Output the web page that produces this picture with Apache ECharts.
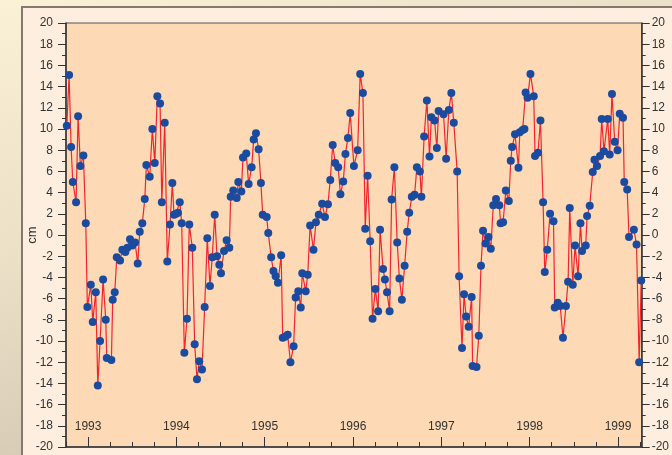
<!DOCTYPE html>
<html>
<head>
<meta charset="utf-8">
<script src="https://cdn.jsdelivr.net/npm/echarts@6/dist/echarts.min.js"></script>
<style>
html,body{margin:0;padding:0;}
#chart{width:672px;height:455px;}
</style>
</head>
<body>
<div id="chart"></div>
<script>
// Observation times (decimal years) and sea level anomaly (cm)
var times = [
1992.759,1992.785,1992.808,1992.827,1992.864,1992.887,1992.913,1992.947,1992.974,1992.992,
1993.031,1993.053,1993.087,1993.110,1993.136,1993.170,1993.200,1993.212,1993.264,1993.279,
1993.302,1993.325,1993.362,1993.388,1993.422,1993.445,1993.475,1993.501,1993.532,1993.562,
1993.585,1993.614,1993.642,1993.660,1993.698,1993.728,1993.755,1993.784,1993.815,1993.835,
1993.868,1993.897,1993.928,1993.954,1993.973,1993.996,1994.018,1994.038,1994.060,1994.090,
1994.120,1994.146,1994.180,1994.207,1994.233,1994.259,1994.290,1994.320,1994.350,1994.380,
1994.406,1994.434,1994.460,1994.486,1994.505,1994.539,1994.569,1994.599,1994.615,1994.644,
1994.683,1994.701,1994.735,1994.754,1994.791,1994.818,1994.852,1994.875,1994.901,1994.931,
1994.957,1994.977,1995.022,1995.040,1995.073,1995.099,1995.124,1995.150,1995.186,1995.204,
1995.231,1995.260,1995.291,1995.327,1995.350,1995.380,1995.408,1995.425,1995.464,1995.487,
1995.514,1995.552,1995.580,1995.612,1995.650,1995.682,1995.716,1995.742,1995.770,1995.798,
1995.832,1995.857,1995.889,1995.914,1995.942,1995.968,
1996.010,1996.052,1996.081,1996.112,1996.138,1996.165,1996.194,1996.221,1996.253,1996.284,
1996.306,1996.340,1996.361,1996.385,1996.414,1996.437,1996.468,1996.500,1996.525,1996.553,
1996.584,1996.613,1996.636,1996.666,1996.697,1996.723,1996.757,1996.774,1996.805,1996.836,
1996.866,1996.887,1996.923,1996.949,1996.969,
1997.025,1997.054,1997.085,1997.113,1997.141,1997.179,1997.201,1997.234,1997.257,1997.280,
1997.309,1997.343,1997.354,1997.398,1997.424,1997.449,1997.472,1997.500,1997.534,1997.560,
1997.588,1997.619,1997.656,1997.671,1997.699,1997.730,1997.764,1997.786,1997.801,1997.834,
1997.873,1997.888,1997.920,1997.941,1997.954,1997.976,
1998.009,1998.046,1998.061,1998.094,1998.122,1998.152,1998.171,1998.199,1998.231,1998.270,
1998.284,1998.318,1998.346,1998.377,1998.411,1998.435,1998.454,1998.488,1998.514,1998.548,
1998.575,1998.593,1998.635,1998.650,1998.680,1998.714,1998.734,1998.763,1998.797,1998.816,
1998.841,1998.884,1998.906,1998.932,1998.963,1998.995,
1999.020,1999.057,1999.071,1999.104,1999.125,1999.180,1999.210,1999.240,1999.263
];
var sla = [
10.3,15.1,8.3,5.0,3.1,11.2,6.5,7.5,1.1,-6.8,
-4.7,-8.2,-5.4,-14.2,-10.0,-4.2,-8.0,-11.6,-11.8,-6.1,
-5.4,-2.1,-2.4,-1.4,-1.6,-1.2,-0.4,-1.0,-0.7,-2.7,
0.3,1.1,3.4,6.6,5.5,10.0,6.8,13.1,12.4,3.1,
10.6,-2.5,1.0,4.9,1.9,2.0,2.1,3.1,1.1,-11.1,
-7.9,1.0,-1.2,-10.3,-13.6,-11.9,-12.7,-6.8,-0.3,-4.8,
-2.1,1.9,-2.0,-2.8,-3.6,-1.5,-0.5,-1.2,3.6,4.2,
3.5,5.0,4.1,7.3,7.7,4.8,6.4,9.0,9.6,8.1,
4.9,1.9,1.7,0.2,-2.1,-3.4,-3.9,-4.5,-1.9,-9.7,
-9.6,-9.4,-12.0,-10.5,-5.9,-5.3,-6.85,-3.6,-5.3,-3.75,
0.9,-1.4,1.2,1.9,2.95,1.7,2.9,5.2,8.5,6.8,
6.4,3.85,5.05,7.65,9.15,11.5,
6.5,8.0,15.2,13.4,0.6,5.6,-0.6,-7.9,-5.1,-7.2,
0.5,-3.2,-4.2,-5.4,-7.2,3.35,6.4,-0.7,-4.1,-6.1,
-2.9,0.3,2.1,3.6,3.8,6.4,6.0,3.6,9.3,12.7,
7.4,11.1,10.8,8.2,11.7,
11.4,7.2,11.8,13.4,10.6,6.0,-3.9,-10.65,-5.6,-7.7,
-8.65,-5.85,-12.35,-12.45,-9.5,-2.9,0.4,-0.8,-0.2,-1.3,
2.8,3.4,2.8,1.1,1.2,4.2,3.2,7.0,8.3,9.5,
6.35,9.7,9.9,10.0,13.45,12.95,
15.2,13.1,7.45,7.75,10.8,3.1,-3.5,-1.4,2.0,1.3,
-6.85,-6.4,-6.7,-9.7,-6.7,-4.4,2.55,-4.7,-1.0,-3.9,
1.1,-1.5,-1.0,1.8,2.75,5.95,7.1,6.5,7.45,10.95,
7.9,10.95,7.6,13.3,8.8,8.0,
11.45,11.05,5.0,4.3,-0.2,0.5,-0.9,-12.0,-4.3
];
var yearTicks = [1993,1994,1995,1996,1997,1998,1999];
var quarterTicks = [];
for (var y = 1992; y <= 1999; y++) {
  [0.25,0.5,0.75].forEach(function(q){ quarterTicks.push(y+q); });
}
var xMin = 1992.75, xMax = 1999.268;
var yMin = -20, yMax = 20, yStep = 2;

var seriesData = times.map(function(t,i){ return [t, sla[i]]; });

var chart = echarts.init(document.getElementById('chart'), null, {renderer:'canvas'});
var axisColor = '#333333';
var fontFam = 'Liberation Sans, Arial, sans-serif';
function yAxisCfg(pos, margin) {
  return {
    type:'value', min:yMin, max:yMax, interval:yStep, position:pos,
    axisLine:{show:true, onZero:false, lineStyle:{color:axisColor, width:1.5}},
    axisTick:{show:true, inside:false, length:8, lineStyle:{color:axisColor, width:1}},
    minorTick:{show:true, splitNumber:2, length:4, lineStyle:{color:axisColor, width:1}},
    axisLabel:{margin:margin, fontSize:12, color:'#333', fontFamily:fontFam},
    splitLine:{show:false}, minorSplitLine:{show:false}
  };
}
var yLeft = yAxisCfg('left', 13);
yLeft.name = 'cm';
yLeft.nameLocation = 'middle';
yLeft.nameGap = 27;
yLeft.nameRotate = 90;
yLeft.nameMoveOverlap = false;
yLeft.nameTextStyle = {fontSize:13, color:'#333', fontFamily:fontFam};
var yRight = yAxisCfg('right', 10);

chart.setOption({
  animation:false,
  backgroundColor:{type:'linear', x:0, y:0, x2:0.25, y2:1,
    colorStops:[{offset:0,color:'#faf1d6'},{offset:0.5,color:'#ece0c7'},{offset:1,color:'#d3c7b4'}]},
  graphic:[{
    type:'rect', z:-10, silent:true,
    shape:{x:22, y:7, width:700, height:500},
    style:{fill:'#fdeedf', stroke:'#83796c', lineWidth:2}
  }],
  grid:{left:66, right:30, top:23, bottom:8, show:true, backgroundColor:'#fdd9b5',
        borderColor:'#555', borderWidth:1},
  xAxis:[{
    type:'value', min:xMin, max:xMax, position:'bottom',
    axisLine:{show:true, onZero:false, lineStyle:{color:axisColor, width:1.5}},
    axisTick:{show:true, inside:true, length:10, customValues:yearTicks, lineStyle:{color:axisColor, width:1}},
    axisLabel:{show:true, inside:true, margin:14, customValues:yearTicks, fontSize:12, color:'#333',
               fontFamily:fontFam, formatter:function(v){return String(Math.round(v));}},
    splitLine:{show:false}
  },{
    type:'value', min:xMin, max:xMax, position:'bottom',
    axisLine:{show:false, onZero:false},
    axisTick:{show:true, inside:true, length:5, customValues:quarterTicks, lineStyle:{color:axisColor, width:1}},
    axisLabel:{show:false},
    splitLine:{show:false}
  }],
  yAxis:[yLeft, yRight],
  series:[{
    type:'line', xAxisIndex:0, yAxisIndex:0, data:seriesData,
    symbol:'circle', symbolSize:8, showAllSymbol:true,
    lineStyle:{color:'#f0262b', width:1.2},
    itemStyle:{color:'#1b4b9e', borderWidth:0},
    clip:true
  }]
});
</script>
</body>
</html>
